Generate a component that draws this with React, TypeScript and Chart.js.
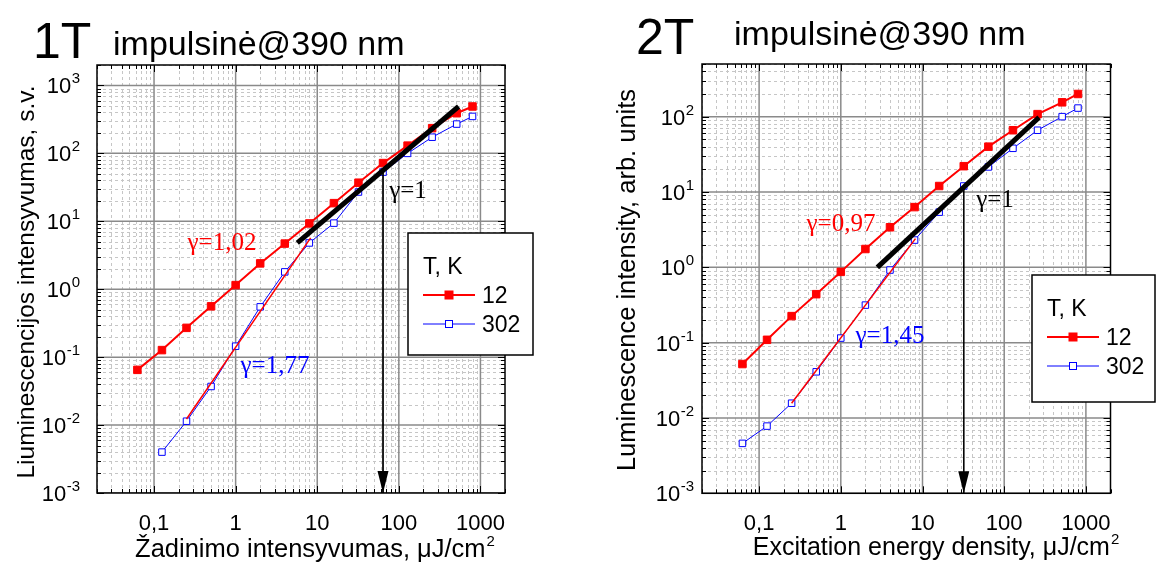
import React, { useEffect, useRef } from "react";
import { Chart, registerables } from "chart.js";

Chart.register(...registerables);

// ---------------- data ----------------
const excitation = [0.0625, 0.125, 0.25, 0.5, 1, 2, 4, 8, 16, 32, 64, 128, 256, 512, 800];
const excitationLeft302 = [0.125, 0.25, 0.5, 1, 2, 4, 8, 16, 32, 64, 128, 256, 512, 800];

const left12K = [0.065, 0.127, 0.27, 0.56, 1.15, 2.4, 4.7, 9.3, 18.5, 37, 72, 130, 235, 390, 490];
const left302K = [0.004, 0.0114, 0.037, 0.145, 0.55, 1.8, 4.8, 9.4, 27, 53, 100, 173, 270, 350];

const right12K = [0.052, 0.109, 0.225, 0.44, 0.87, 1.75, 3.4, 6.3, 12, 22, 40, 66, 108, 155, 200];
const right302K = [0.0046, 0.0078, 0.0157, 0.041, 0.115, 0.315, 0.92, 2.3, 5.4, 12, 21.5, 38, 66, 100, 130];

const leftFitX = [0.25, 8.3];
const leftFitY = [0.0123, 5.7];
const leftUnitX = [5.7, 540];
const leftUnitY = [4.8, 490];
const leftArrowX = [64, 64];
const leftArrowY = [58, 0.001];

const rightFitX = [0.25, 8.2];
const rightFitY = [0.0157, 2.4];
const rightUnitX = [2.8, 267];
const rightUnitY = [1.0, 98];
const rightArrowX = [32, 32];
const rightArrowY = [12, 0.001];

const xTickValues = [0.1, 1, 10, 100, 1000];
const xTickLabels = ["0,1", "1", "10", "100", "1000"];
const leftYExponents = [-3, -2, -1, 0, 1, 2, 3];
const rightYExponents = [-3, -2, -1, 0, 1, 2];

const legendTitle = "T, K";
const seriesNames = ["12", "302"];

// ---------------- styles ----------------
const SANS = '"Liberation Sans", Arial, Helvetica, sans-serif';
const SERIF = '"Liberation Serif", "Times New Roman", Times, serif';
const RED = "#ff0000";
const BLUE = "#0000ff";

const pts = (xs: number[], ys: number[]) => xs.map((x, i) => ({ x, y: ys[i] }));

function logTicks(min: number, max: number) {
  const out: { v: number; major: boolean }[] = [];
  const d0 = Math.floor(Math.log10(min)) - 1;
  const d1 = Math.ceil(Math.log10(max)) + 1;
  for (let d = d0; d <= d1; d++) {
    for (let m = 1; m <= 9; m++) {
      const v = m * Math.pow(10, d);
      if (v >= min * 0.9999 && v <= max * 1.0001) out.push({ v, major: m === 1 });
    }
  }
  return out;
}

type Spec = {
  canvasLeft: number;
  width: number;
  padding: { left: number; right: number; top: number; bottom: number };
  xMin: number;
  xMax: number;
  yMin: number;
  yMax: number;
  yExponents: number[];
  yLabelGap: number;
  big: { text: string; x: number; y: number };
  sub: { text: string; x: number; y: number };
  xTitle: { text: string; cx: number; y: number; size: number };
  yTitle: { text: string; x: number; y: number; size: number };
  legend: { x: number; y: number; w: number; h: number };
  gammas: { text: string; color: string; x: number; y: number }[];
  datasets: any[];
};

function decorPlugin(spec: Spec) {
  return {
    id: "decor",
    beforeDatasetsDraw(chart: any) {
      const { ctx, chartArea: a, scales } = chart;
      const xs = scales.x;
      const ys = scales.y;
      const xt = logTicks(spec.xMin, spec.xMax);
      const yt = logTicks(spec.yMin, spec.yMax);
      ctx.save();
      ctx.beginPath();
      ctx.rect(a.left, a.top, a.right - a.left, a.bottom - a.top);
      ctx.clip();
      // minor grid
      ctx.strokeStyle = "#c6c6c6";
      ctx.lineWidth = 1;
      ctx.setLineDash([3, 3]);
      ctx.beginPath();
      xt.filter((t) => !t.major).forEach((t) => {
        const p = Math.round(xs.getPixelForValue(t.v)) + 0.5;
        ctx.moveTo(p, a.top);
        ctx.lineTo(p, a.bottom);
      });
      yt.filter((t) => !t.major).forEach((t) => {
        const p = Math.round(ys.getPixelForValue(t.v)) + 0.5;
        ctx.moveTo(a.left, p);
        ctx.lineTo(a.right, p);
      });
      ctx.stroke();
      // major grid
      ctx.setLineDash([]);
      ctx.strokeStyle = "#8a8a8a";
      ctx.lineWidth = 1.5;
      ctx.beginPath();
      xt.filter((t) => t.major).forEach((t) => {
        const p = xs.getPixelForValue(t.v);
        ctx.moveTo(p, a.top);
        ctx.lineTo(p, a.bottom);
      });
      yt.filter((t) => t.major).forEach((t) => {
        const p = ys.getPixelForValue(t.v);
        ctx.moveTo(a.left, p);
        ctx.lineTo(a.right, p);
      });
      ctx.stroke();
      ctx.restore();
    },
    afterDatasetsDraw(chart: any) {
      const { ctx, chartArea: a, scales } = chart;
      const xs = scales.x;
      const ys = scales.y;
      const xt = logTicks(spec.xMin, spec.xMax);
      const yt = logTicks(spec.yMin, spec.yMax);
      ctx.save();

      // arrow head (dataset index 2 is the arrow line)
      const arrowMeta = chart.getDatasetMeta(2);
      const tip = arrowMeta.data[1];
      ctx.fillStyle = "#000";
      ctx.beginPath();
      ctx.moveTo(tip.x, tip.y);
      ctx.lineTo(tip.x - 5.5, tip.y - 22);
      ctx.lineTo(tip.x + 5.5, tip.y - 22);
      ctx.closePath();
      ctx.fill();

      // ticks
      ctx.strokeStyle = "#000";
      ctx.lineWidth = 1;
      ctx.beginPath();
      xt.forEach((t) => {
        const p = Math.round(xs.getPixelForValue(t.v)) + 0.5;
        const len = t.major ? 7 : 4;
        ctx.moveTo(p, a.bottom);
        ctx.lineTo(p, a.bottom - len);
        ctx.moveTo(p, a.top);
        ctx.lineTo(p, a.top + len);
      });
      yt.forEach((t) => {
        const p = Math.round(ys.getPixelForValue(t.v)) + 0.5;
        const len = t.major ? 7 : 4;
        ctx.moveTo(a.left, p);
        ctx.lineTo(a.left + len, p);
        ctx.moveTo(a.right, p);
        ctx.lineTo(a.right - len, p);
      });
      ctx.stroke();

      // frame
      ctx.lineWidth = 1.5;
      ctx.strokeRect(a.left, a.top, a.right - a.left, a.bottom - a.top);

      // x tick labels
      ctx.fillStyle = "#000";
      ctx.font = `22px ${SANS}`;
      ctx.textAlign = "center";
      ctx.textBaseline = "alphabetic";
      xTickValues.forEach((v, i) => {
        ctx.fillText(xTickLabels[i], xs.getPixelForValue(v), a.bottom + 37);
      });

      // y tick labels 10^n
      spec.yExponents.forEach((e) => {
        const py = ys.getPixelForValue(Math.pow(10, e));
        const right = a.left - spec.yLabelGap;
        ctx.font = `15px ${SANS}`;
        ctx.textAlign = "right";
        const expText = String(e);
        const ew = ctx.measureText(expText).width;
        ctx.fillText(expText, right, py - 2);
        ctx.font = `22px ${SANS}`;
        ctx.fillText("10", right - ew - 0.5, py + 8);
      });

      // x axis title with superscript
      ctx.textAlign = "left";
      ctx.font = `${spec.xTitle.size}px ${SANS}`;
      const xt1 = spec.xTitle.text;
      const w1 = ctx.measureText(xt1).width;
      ctx.font = `15px ${SANS}`;
      const w2 = ctx.measureText("2").width;
      const x0 = spec.xTitle.cx - (w1 + 1 + w2) / 2;
      ctx.font = `${spec.xTitle.size}px ${SANS}`;
      ctx.fillText(xt1, x0, spec.xTitle.y);
      ctx.font = `15px ${SANS}`;
      ctx.fillText("2", x0 + w1 + 1, spec.xTitle.y - 11);

      // y axis title
      ctx.save();
      ctx.translate(spec.yTitle.x, spec.yTitle.y);
      ctx.rotate(-Math.PI / 2);
      ctx.font = `${spec.yTitle.size}px ${SANS}`;
      ctx.textAlign = "center";
      ctx.textBaseline = "middle";
      ctx.fillText(spec.yTitle.text, 0, 0);
      ctx.restore();

      // panel titles
      ctx.textAlign = "left";
      ctx.textBaseline = "alphabetic";
      ctx.font = `50px ${SANS}`;
      ctx.fillText(spec.big.text, spec.big.x, spec.big.y);
      ctx.font = `34px ${SANS}`;
      ctx.fillText(spec.sub.text, spec.sub.x, spec.sub.y);

      // gamma annotations
      ctx.textAlign = "center";
      ctx.textBaseline = "middle";
      ctx.font = `25px ${SERIF}`;
      spec.gammas.forEach((g) => {
        ctx.fillStyle = g.color;
        ctx.fillText(g.text, g.x, g.y);
      });

      // legend
      const L = spec.legend;
      ctx.fillStyle = "#fff";
      ctx.fillRect(L.x, L.y, L.w, L.h);
      ctx.strokeStyle = "#000";
      ctx.lineWidth = 1.5;
      ctx.strokeRect(L.x, L.y, L.w, L.h);
      ctx.fillStyle = "#000";
      ctx.textAlign = "left";
      ctx.textBaseline = "alphabetic";
      ctx.font = `23px ${SANS}`;
      ctx.fillText(legendTitle, L.x + 15, L.y + 41);
      const rows = [
        { y: L.y + 62, color: RED, lw: 2, filled: true, name: seriesNames[0] },
        { y: L.y + 91, color: BLUE, lw: 1, filled: false, name: seriesNames[1] },
      ];
      rows.forEach((r) => {
        ctx.strokeStyle = r.color;
        ctx.lineWidth = r.lw;
        ctx.beginPath();
        ctx.moveTo(L.x + 15, r.y);
        ctx.lineTo(L.x + 67, r.y);
        ctx.stroke();
        const cx = L.x + 41;
        if (r.filled) {
          ctx.fillStyle = r.color;
          ctx.fillRect(cx - 4.5, r.y - 4.5, 9, 9);
        } else {
          ctx.fillStyle = "#fff";
          ctx.fillRect(cx - 3.5, r.y - 3.5, 7, 7);
          ctx.lineWidth = 1;
          ctx.strokeRect(cx - 3.5, r.y - 3.5, 7, 7);
        }
        ctx.fillStyle = "#000";
        ctx.fillText(r.name, L.x + 74, r.y + 8);
      });

      ctx.restore();
    },
  };
}

function makeDatasets(
  fitX: number[], fitY: number[], unitX: number[], unitY: number[],
  arrowX: number[], arrowY: number[],
  x12: number[], y12: number[], x302: number[], y302: number[]
) {
  return [
    { label: "γ=1", data: pts(unitX, unitY), borderColor: "#000", borderWidth: 5, pointRadius: 0, borderCapStyle: "butt" },
    { label: "fit", data: pts(fitX, fitY), borderColor: RED, borderWidth: 1.5, pointRadius: 0 },
    { label: "arrow", data: pts(arrowX, arrowY), borderColor: "#000", borderWidth: 1, pointRadius: 0 },
    {
      label: "12", data: pts(x12, y12), borderColor: RED, backgroundColor: RED, borderWidth: 2,
      pointStyle: "rect", pointRadius: 5.3, pointBorderWidth: 1, pointBorderColor: RED, pointBackgroundColor: RED,
    },
    {
      label: "302", data: pts(x302, y302), borderColor: BLUE, backgroundColor: "#fff", borderWidth: 1,
      pointStyle: "rect", pointRadius: 4.6, pointBorderWidth: 1, pointBorderColor: BLUE, pointBackgroundColor: "#fff",
    },
  ];
}

const leftSpec: Spec = {
  canvasLeft: 0,
  width: 578,
  padding: { left: 97, right: 73, top: 65, bottom: 75 },
  xMin: 0.02, xMax: 2000, yMin: 0.001, yMax: 2000,
  yExponents: leftYExponents,
  yLabelGap: 17,
  big: { text: "1T", x: 33, y: 58 },
  sub: { text: "impulsinė@390 nm", x: 113, y: 55 },
  xTitle: { text: "Žadinimo intensyvumas, μJ/cm", cx: 315, y: 557, size: 25.5 },
  yTitle: { text: "Liuminescencijos intensyvumas, s.v.", x: 27, y: 282, size: 24.5 },
  legend: { x: 408, y: 233, w: 125, h: 122 },
  gammas: [
    { text: "γ=1", color: "#000", x: 408, y: 191 },
    { text: "γ=1,02", color: RED, x: 222, y: 243 },
    { text: "γ=1,77", color: BLUE, x: 275, y: 366 },
  ],
  datasets: makeDatasets(leftFitX, leftFitY, leftUnitX, leftUnitY, leftArrowX, leftArrowY,
    excitation, left12K, excitationLeft302, left302K),
};

const rightSpec: Spec = {
  canvasLeft: 578,
  width: 579,
  padding: { left: 124, right: 46.5, top: 64, bottom: 74.7 },
  xMin: 0.02, xMax: 2000, yMin: 0.001, yMax: 500,
  yExponents: rightYExponents,
  yLabelGap: 8,
  big: { text: "2T", x: 58, y: 54 },
  sub: { text: "impulsinė@390 nm", x: 156, y: 45 },
  xTitle: { text: "Excitation energy density, μJ/cm", cx: 358, y: 555, size: 25 },
  yTitle: { text: "Luminescence intensity, arb. units", x: 50, y: 280, size: 25.5 },
  legend: { x: 454, y: 275, w: 123, h: 127 },
  gammas: [
    { text: "γ=1", color: "#000", x: 417, y: 200 },
    { text: "γ=0,97", color: RED, x: 263, y: 224 },
    { text: "γ=1,45", color: BLUE, x: 312, y: 336 },
  ],
  datasets: makeDatasets(rightFitX, rightFitY, rightUnitX, rightUnitY, rightArrowX, rightArrowY,
    excitation, right12K, excitation, right302K),
};

function Panel({ spec }: { spec: Spec }) {
  const ref = useRef<HTMLCanvasElement>(null);
  useEffect(() => {
    const chart = new Chart(ref.current as HTMLCanvasElement, {
      type: "line",
      data: { datasets: spec.datasets },
      options: {
        responsive: false,
        animation: false,
        devicePixelRatio: 1,
        events: [],
        layout: { padding: spec.padding },
        plugins: { legend: { display: false }, tooltip: { enabled: false } },
        elements: { line: { tension: 0 } },
        scales: {
          x: { type: "logarithmic", min: spec.xMin, max: spec.xMax, display: false },
          y: { type: "logarithmic", min: spec.yMin, max: spec.yMax, display: false },
        },
      } as any,
      plugins: [decorPlugin(spec) as any],
    });
    return () => chart.destroy();
  }, [spec]);
  return (
    <canvas
      ref={ref}
      width={spec.width}
      height={568}
      style={{ position: "absolute", left: spec.canvasLeft, top: 0, width: spec.width, height: 568 }}
    />
  );
}

export default function App() {
  return (
    <div style={{ position: "absolute", left: 0, top: 0, width: 1157, height: 568, background: "#fff", overflow: "hidden" }}>
      <Panel spec={leftSpec} />
      <Panel spec={rightSpec} />
    </div>
  );
}
